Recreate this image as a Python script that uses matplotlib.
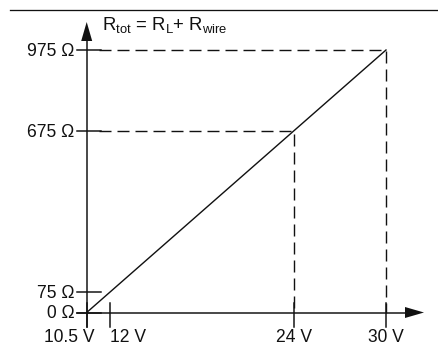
import matplotlib
matplotlib.use("Agg")
import matplotlib.pyplot as plt
from matplotlib.lines import Line2D

plt.rcParams['font.family'] = ['Liberation Sans', 'DejaVu Sans']
plt.rcParams['mathtext.fontset'] = 'custom'
plt.rcParams['mathtext.rm'] = 'Liberation Sans'
plt.rcParams['mathtext.it'] = 'Liberation Sans'
plt.rcParams['lines.scale_dashes'] = False

# data
voltage = [10.5, 30]
resistance = [0, 975]
marked_v = [24, 30]
marked_r = [675, 975]
x_ticks = [10.5, 12, 24, 30]
x_labels = ["10.5 V", "12 V", "24 V", "30 V"]
y_ticks = [0, 75, 675, 975]
y_labels = ["0 \u03a9", "75 \u03a9", "675 \u03a9", "975 \u03a9"]
title = r"R$_{\mathrm{tot}}$ = R$_{\mathrm{L}}$+ R$_{\mathrm{wire}}$"

W, H = 438, 349
fig = plt.figure(figsize=(W / 72, H / 72), dpi=72)
ax = fig.add_axes([0, 0, 1, 1])
ax.axis("off")

# pixel scale of the drawing
x0_px, y0_px = 86.7, 312.5
sx = (386 - x0_px) / (30 - 10.5)      # px per volt
sy = (y0_px - 50) / 975               # px per ohm
ax.set_xlim(10.5 - x0_px / sx, 10.5 + (W - x0_px) / sx)
ax.set_ylim(-(H - y0_px) / sy, y0_px / sy)

def dx(px):
    return px / sx

def dy(px):
    return px / sy

ink = "#111111"
lw = 1.5
fs = 17.5

# axes with arrow heads
x_tip = 10.5 + dx(424 - x0_px)
y_tip = dy(y0_px - 22)
head_len, head_hw = 19, 5.5
ax.plot([10.5 - dx(10), x_tip - dx(head_len)], [0, 0], color=ink, lw=lw)
ax.fill([x_tip, x_tip - dx(head_len), x_tip - dx(head_len)],
        [0, dy(head_hw), -dy(head_hw)], color=ink, lw=0)
ax.plot([10.5, 10.5], [-dy(14.5), y_tip - dy(head_len)], color=ink, lw=lw)
ax.fill([10.5, 10.5 - dx(head_hw), 10.5 + dx(head_hw)],
        [y_tip, y_tip - dy(head_len), y_tip - dy(head_len)], color=ink, lw=0)

# characteristic line
ax.plot(voltage, resistance, color=ink, lw=1.4)

# dashed helper lines
for v, r in zip(marked_v, marked_r):
    ax.plot([10.5 + dx(12), v, v], [r, r, 0], color=ink, lw=1.4,
            linestyle=(0, (12, 6)))

# ticks and labels
for v, lab in zip(x_ticks, x_labels):
    ax.plot([v, v], [dy(9.5), -dy(14.5)], color=ink, lw=lw)
    if v == 10.5:
        ax.text(v + dx(8), -dy(29.5), lab, ha="right", va="baseline",
                fontsize=fs, color=ink)
    elif v == 12:
        ax.text(v, -dy(29.5), lab, ha="left", va="baseline",
                fontsize=fs, color=ink)
    else:
        ax.text(v, -dy(29.5), lab, ha="center", va="baseline",
                fontsize=fs, color=ink)

for r, lab in zip(y_ticks, y_labels):
    ax.plot([10.5 - dx(10), 10.5 + dx(14)], [r, r], color=ink, lw=lw)
    ax.text(10.5 - dx(12), r - dy(6), lab, ha="right", va="baseline",
            fontsize=fs, color=ink)

ax.text(10.5 + dx(102 - x0_px), dy(y0_px - 30), title, ha="left",
        va="baseline", fontsize=fs + 1, color=ink)

# top rule
fig.add_artist(Line2D([10 / W, 1], [1 - 10 / H, 1 - 10 / H],
                      color=ink, lw=1.3))

fig.savefig("out.png", dpi=72)
